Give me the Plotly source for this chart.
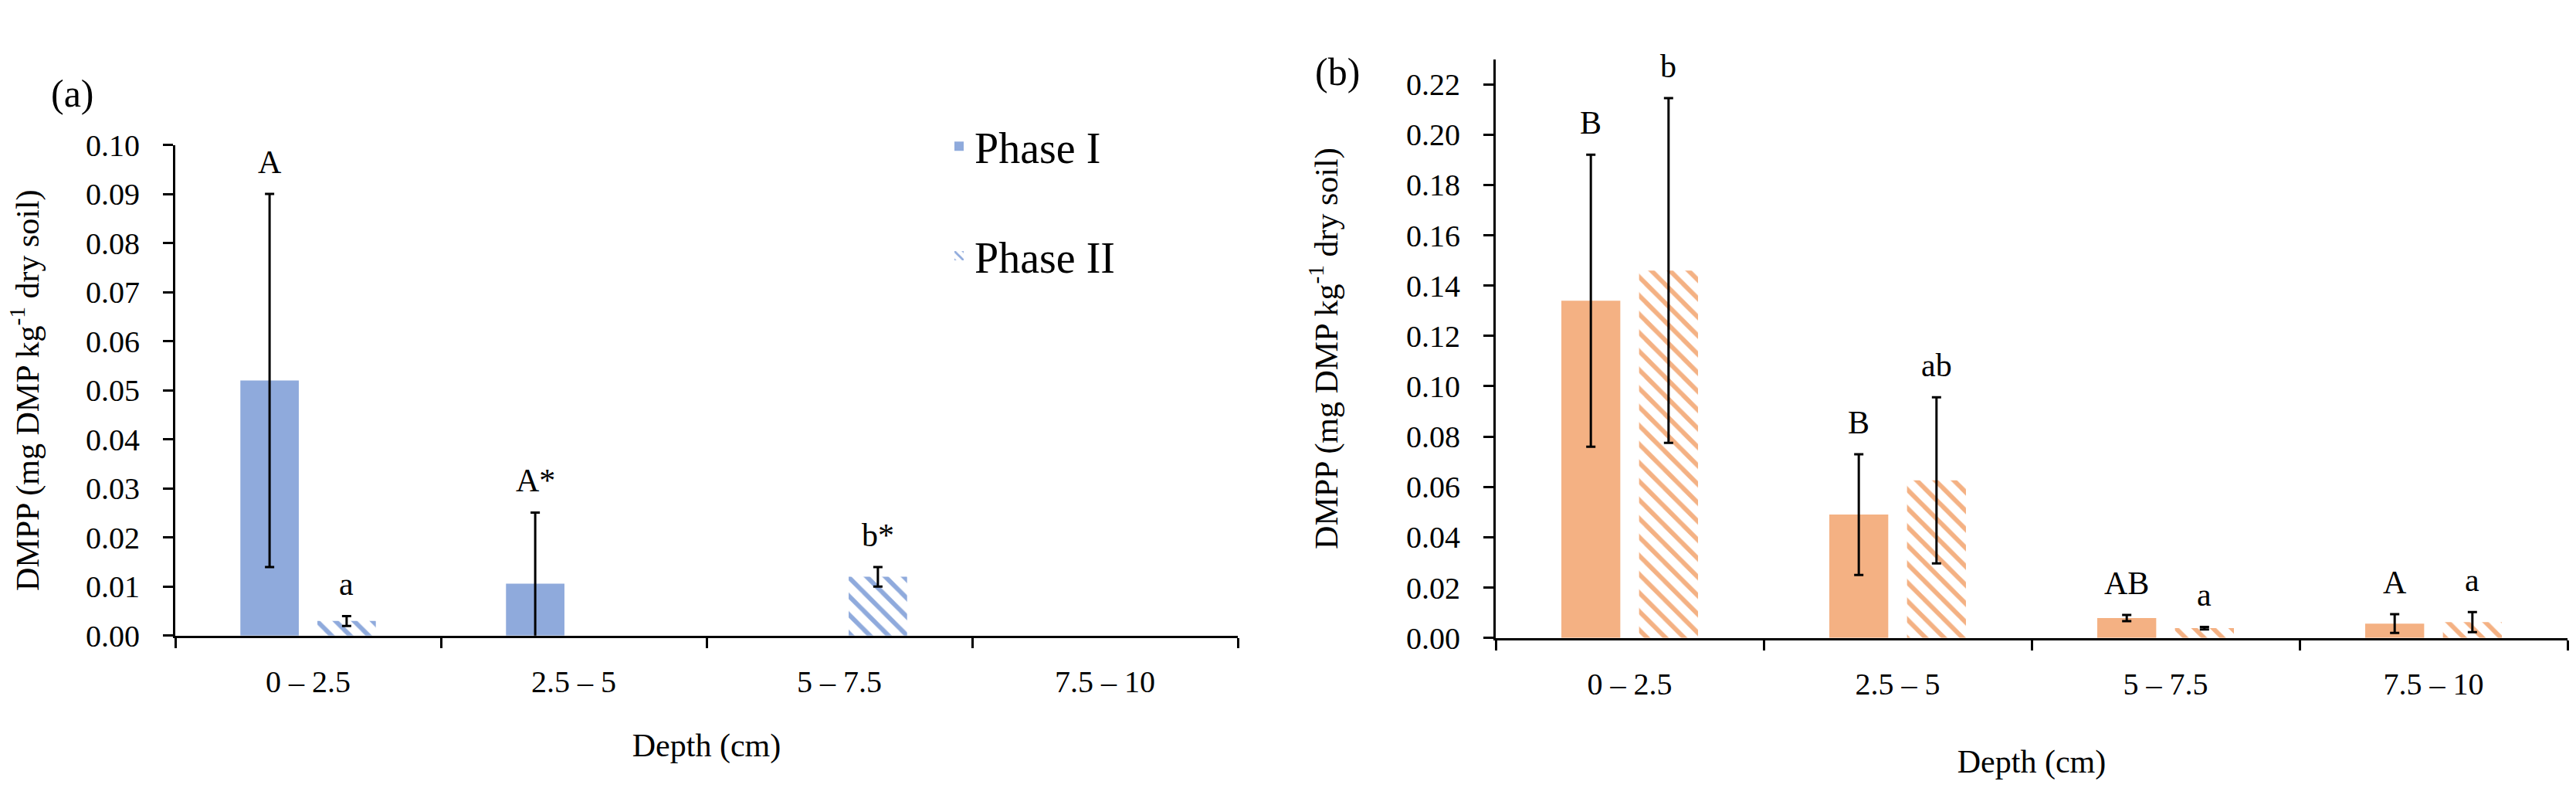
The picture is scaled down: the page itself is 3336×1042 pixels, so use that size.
import plotly.graph_objects as go

# depth classes used on both panels
depths = ["0 – 2.5", "2.5 – 5", "5 – 7.5", "7.5 – 10"]

# panel (a): DMPP, blue series (None = no bar drawn)
a_phase1 = [0.052, 0.0106, None, None]
a_phase1_err = [0.038, 0.0145, None, None]
a_phase1_letters = ["A", "A*", "", ""]
a_phase2 = [0.003, None, 0.012, None]
a_phase2_err = [0.001, None, 0.002, None]
a_phase2_letters = ["a", "", "b*", ""]

# panel (b): DMPP, orange series
b_phase1 = [0.134, 0.049, 0.0079, 0.0057]
b_phase1_err = [0.058, 0.024, 0.0012, 0.0037]
b_phase1_letters = ["B", "B", "AB", "A"]
b_phase2 = [0.146, 0.0626, 0.0039, 0.0063]
b_phase2_err = [0.0685, 0.033, 0.0005, 0.004]
b_phase2_letters = ["b", "ab", "a", "a"]

BLUE = "#8FAADC"
ORANGE = "#F4B183"
FONT = "Liberation Serif"
W, H = 3336, 1042

# bar geometry inside one category (category width = 1)
BAR_W = 0.22
OFFSETS = {"Phase I": -0.255, "Phase II": 0.035}


def add_phase(fig, name, values, errors, letters, color, xaxis, yaxis, showlegend):
    """Adds one phase as bars with error bars and the significance letters above them."""
    if name == "Phase II":
        marker = dict(color="white",
                      pattern=dict(shape="\\", fgcolor=color, bgcolor="white",
                                   size=17, solidity=0.35, fillmode="replace"),
                      line=dict(width=0))
    else:
        marker = dict(color=color, line=dict(width=0))

    # only keep the depths that actually have a measurement
    keep = [i for i, v in enumerate(values) if v is not None]
    fig.add_trace(go.Bar(
        x=[depths[i] for i in keep], y=[values[i] for i in keep], name=name,
        width=BAR_W, offset=OFFSETS[name],
        marker=marker,
        error_y=dict(type="data", array=[errors[i] for i in keep],
                     color="black", thickness=3, width=6),
        xaxis=xaxis, yaxis=yaxis,
        showlegend=showlegend, legendgroup=name,
    ))

    # letters sit just above the top of each error bar
    center = OFFSETS[name] + BAR_W / 2
    for i in keep:
        if not letters[i]:
            continue
        fig.add_annotation(x=i + center, y=values[i] + errors[i], xref=xaxis, yref=yaxis,
                           text=letters[i], showarrow=False, yanchor="bottom", yshift=16,
                           font=dict(family=FONT, size=42, color="black"))


fig = go.Figure()
add_phase(fig, "Phase I", a_phase1, a_phase1_err, a_phase1_letters, BLUE, "x", "y", True)
add_phase(fig, "Phase II", a_phase2, a_phase2_err, a_phase2_letters, BLUE, "x", "y", True)
add_phase(fig, "Phase I", b_phase1, b_phase1_err, b_phase1_letters, ORANGE, "x2", "y2", False)
add_phase(fig, "Phase II", b_phase2, b_phase2_err, b_phase2_letters, ORANGE, "x2", "y2", False)

tick_font = dict(family=FONT, size=40, color="black")
title_font = dict(family=FONT, size=42, color="black")
x_common = dict(type="category", categoryorder="array", categoryarray=depths,
                range=[-0.5, 3.5], showline=True, linecolor="black",
                linewidth=3, ticks="outside", tickson="boundaries", ticklen=13,
                tickwidth=3, tickcolor="black", tickfont=tick_font,
                ticklabelstandoff=22, showgrid=False, zeroline=False)
y_common = dict(showline=True, linecolor="black", linewidth=3, ticks="outside",
                ticklen=13, tickwidth=3, tickcolor="black", tickfont=tick_font,
                tickformat=".2f", ticklabelstandoff=22, showgrid=False, zeroline=False)
y_title = "DMPP (mg DMP kg<sup>-1</sup> dry soil)"

fig.update_layout(
    width=W, height=H, autosize=False,
    margin=dict(l=0, r=0, t=0, b=0),
    paper_bgcolor="white", plot_bgcolor="white",
    font=dict(family=FONT, color="black"),
    barmode="overlay",
    xaxis=dict(domain=[227 / W, 1603 / W], anchor="y",
               title=dict(text="Depth (cm)", font=title_font, standoff=46), **x_common),
    yaxis=dict(domain=[205 / H, 869 / H], anchor="x", range=[0, 0.10], dtick=0.01, tick0=0,
               title=dict(text=y_title, font=title_font, standoff=48), **y_common),
    xaxis2=dict(domain=[1937 / W, 3325 / W], anchor="y2",
                title=dict(text="Depth (cm)", font=title_font, standoff=64), **x_common),
    yaxis2=dict(domain=[202 / H, 985 / H], anchor="x2", range=[0, 0.23], dtick=0.02, tick0=0,
                title=dict(text=y_title, font=title_font, standoff=76), **y_common),
    legend=dict(x=1222 / W, y=1 - 130 / H, xanchor="left", yanchor="top",
                font=dict(family=FONT, size=56), traceorder="grouped",
                tracegroupgap=66, bgcolor="rgba(0,0,0,0)", borderwidth=0),
    showlegend=True,
)

# panel tags
fig.add_annotation(x=64 / W, y=1 - 72 / H, xref="paper", yref="paper", text="(a)",
                   showarrow=False, font=dict(family=FONT, size=50))
fig.add_annotation(x=1732 / W, y=1 - 43 / H, xref="paper", yref="paper", text="(b)",
                   showarrow=False, font=dict(family=FONT, size=50))

# no page margin and no mode bar so the figure fills the window exactly
fig.write_html("out.html", config={"displayModeBar": False},
               post_script="document.body.style.margin = '0';")
